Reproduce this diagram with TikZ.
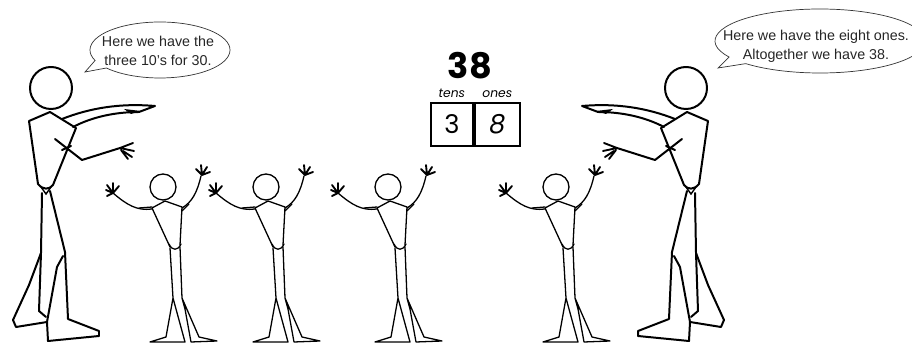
\documentclass[tikz,border=0pt]{standalone}
\usepackage{fontspec}
\setmainfont{Liberation Sans}
\newfontfamily\numfont{Poppins}
\usetikzlibrary{positioning, calc}
\tikzset{
    talk/.style={font=\fontsize{12.2}{16}\selectfont, text=black!85, align=center, inner sep=0pt},
    bubble/.style={draw=black!80, line width=0.6pt, fill=white},
    bigline/.style={line width=1.7pt, line join=round, line cap=round},
    smallline/.style={line width=1.1pt, line join=round, line cap=round},
    fingers/.style={line width=1.6pt, line cap=round},
    digitbox/.style={draw, line width=1.6pt, minimum width=1.28cm, minimum height=1.29cm, inner sep=0pt, font=\numfont\fontsize{22}{22}\selectfont},
    placelabel/.style={font=\numfont\itshape\fontsize{10.5}{11}\selectfont, inner sep=0pt},
    % grown-up pointing to the right, head centre at (51,88)
    adult/.pic={
      \draw[bigline] (51,88) circle[radius=21];
      \draw[bigline] (38,184) -- (29,121) -- (50,112) -- (76,128) -- (53,185);
      \draw[bigline] (38,184) .. controls (43,190) and (49,190) .. (53,185);
      \draw[line width=1.2pt] (41,187) -- (46,194) -- (51,187);
      % pointing arm
      \draw[bigline] (62,119) .. controls (90,108) and (120,103) .. (155,106) -- (139,112) .. controls (115,112) and (92,117) .. (73,127);
      \fill (124,109) -- (141,111) -- (131,114) -- cycle;
      % lower arm and hand
      \draw[bigline] (55,139) -- (82,160) -- (120,148);
      \draw[bigline] (62,150) -- (71,146);
      \draw[fingers] (120,148) -- (133,143) (120,148) -- (134,151) (121,150) -- (128,159) (123,151) -- (132,157);
      % legs
      \draw[bigline] (42,193) -- (41,253) -- (39,311) -- (46,317);
      \draw[bigline] (41,253) -- (29,285) -- (13,320) -- (16,327) -- (47,322);
      \draw[bigline] (50,191) -- (65,252) -- (68,319) -- (99,331) -- (99,336) -- (48,341) -- (47,322) -- (57,267) -- (63,256);
    },
    % small figure with both arms up, head centre at the origin
    kid/.pic={
      \draw[smallline] (0,0) circle[radius=13];
      \draw[smallline] (7,60) -- (-11,21) -- (2,14) -- (19,20) -- (17,58);
      \draw[smallline] (6,57) .. controls (9,64) and (15,64) .. (18,57);
      % arms
      \draw[smallline] (-11,22) .. controls (-26,24) and (-36,18) .. (-50,6);
      \draw[smallline] (-11,20) -- (-24,21);
      \draw[smallline] (19,21) .. controls (29,15) and (34,6) .. (38,-11);
      \draw[smallline] (19,24) -- (26,17);
      % hands
      \draw[fingers] (-50,6) -- (-57,3) (-50,6) -- (-56,-2) (-50,6) -- (-50,-4) (-50,6) -- (-44,-1) (-50,6) -- (-56,9);
      \draw[fingers] (39,-12) -- (33,-18) (39,-12) -- (38,-22) (39,-12) -- (44,-20) (39,-12) -- (47,-15);
      % legs
      \draw[smallline] (7,61) -- (10,111) -- (3,150) -- (-13,155) -- (22,155) -- (10,111);
      \draw[smallline] (17,60) -- (19,111) -- (36,150) -- (54,154) -- (28,155) -- (22,122) -- (19,111);
    },
}

\begin{document}
\begin{tikzpicture}[x=0.03cm, y=-0.03cm]
\clip (0,0) rectangle (912,343);

% Speech bubbles
\draw[bubble] ($(160,50)+(158:70 and 28)$) arc[start angle=158, end angle=500, x radius=70, y radius=28] -- (85,72) -- cycle;
\node[talk] (lefttalk) at (158,51) {Here we have the\\three 10's for 30.};
\draw[bubble] ($(820,41)+(150:105 and 32)$) arc[start angle=150, end angle=495, x radius=105, y radius=32] -- (718,68) -- cycle;
\node[talk] (righttalk) at (816,46) {Here we have the eight ones.\\Altogether we have 38.};

% Place value chart
\node[font=\numfont\bfseries\fontsize{30}{30}\selectfont, inner sep=0pt] (total) at (470,66) {38};
\node[digitbox, minimum width=1.26cm, anchor=north west] (tensbox) at (430,102) {3};
\node[digitbox, minimum width=1.35cm, anchor=west] (onesbox) at (tensbox.east) {\itshape 8};
\node[placelabel, above=1.2mm of tensbox] (tens) {tens};
\node[placelabel, above=1.2mm of onesbox] (ones) {ones};

% Figures
\pic at (0,0) {adult};
\pic[xscale=-1] at (737,0) {adult};
\foreach \kx in {163,266,388,556}
  \pic at (\kx,187) {kid};
\end{tikzpicture}
\end{document}
